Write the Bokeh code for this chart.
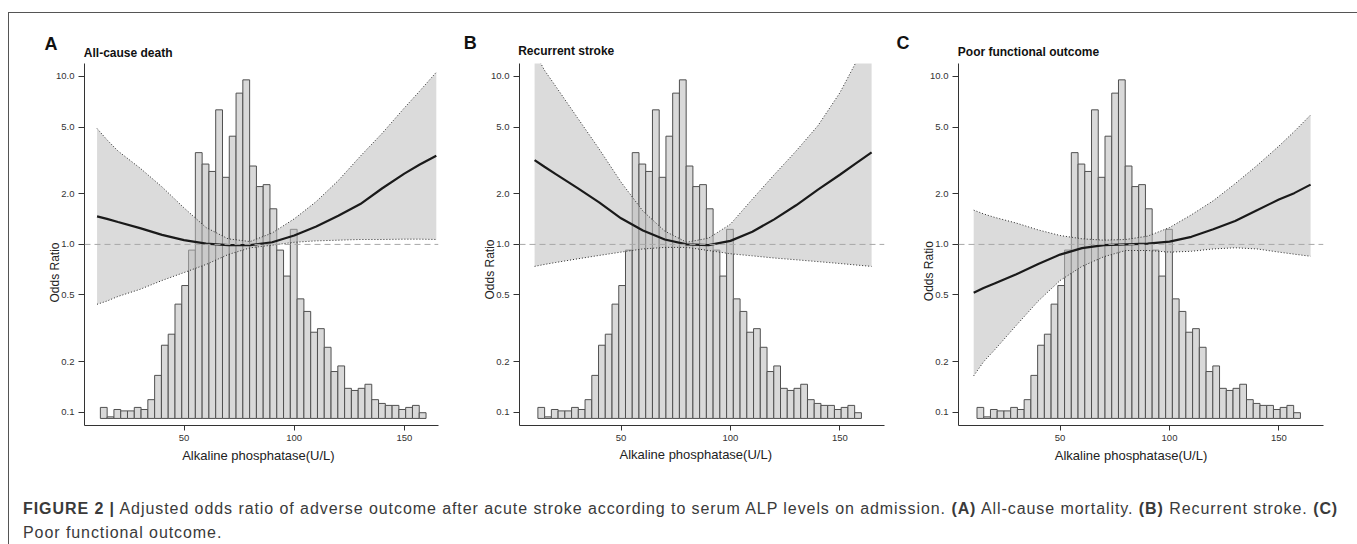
import math
from bokeh.plotting import figure
from bokeh.models import Span, FixedTicker, Div, CustomJSTickFormatter, Title, Range1d
from bokeh.core.properties import value
from bokeh.layouts import column, row
from bokeh.embed import file_html
from bokeh.resources import INLINE

FONT = "Liberation Sans"

# ---------------- data ----------------
# ALP histogram (same in all panels), bar tops read on the odds-ratio log axis
hist_start = 12.0
hist_bin_width = 3.08
hist_bottom = 0.092
hist_tops = [0.107, 0.094, 0.104, 0.102, 0.102, 0.107, 0.104, 0.119, 0.166, 0.251,
             0.292, 0.441, 0.569, 0.925, 3.52, 3.01, 2.72, 6.33, 2.51, 4.41,
             7.96, 9.55, 2.93, 2.21, 2.27, 1.63, 0.925, 0.648, 1.23, 0.474,
             0.399, 0.300, 0.315, 0.244, 0.175, 0.189, 0.139, 0.135, 0.139, 0.147,
             0.119, 0.113, 0.110, 0.110, 0.104, 0.107, 0.110, 0.0995]

alp = [10.5, 15, 20, 30, 40, 50, 60, 70, 80, 90, 100, 110, 120, 130, 140, 150, 157, 164.5]

# A: All-cause death
a_or = [1.47, 1.42, 1.36, 1.25, 1.14, 1.06, 1.01, 0.99, 0.99, 1.03, 1.13, 1.28, 1.48, 1.74, 2.16, 2.64, 2.99, 3.37]
a_hi = [4.9, 4.2, 3.6, 2.85, 2.2, 1.65, 1.26, 1.08, 1.04, 1.17, 1.42, 1.80, 2.4, 3.35, 4.6, 6.5, 8.2, 10.6]
a_lo = [0.44, 0.46, 0.49, 0.54, 0.61, 0.68, 0.76, 0.87, 0.955, 0.99, 1.03, 1.05, 1.06, 1.07, 1.07, 1.075, 1.075, 1.07]

# B: Recurrent stroke
b_or = [3.18, 2.9, 2.63, 2.17, 1.78, 1.43, 1.21, 1.07, 1.00, 0.99, 1.05, 1.19, 1.41, 1.71, 2.12, 2.6, 3.02, 3.53]
b_hi = [14.0, 10.9, 8.8, 5.7, 3.7, 2.35, 1.58, 1.20, 1.03, 1.09, 1.32, 1.86, 2.6, 3.6, 5.1, 8.0, 11.9, 17.0]
b_lo = [0.74, 0.76, 0.78, 0.82, 0.86, 0.90, 0.94, 0.96, 0.96, 0.92, 0.88, 0.855, 0.83, 0.81, 0.79, 0.77, 0.755, 0.74]

# C: Poor functional outcome
c_or = [0.515, 0.55, 0.585, 0.665, 0.765, 0.87, 0.95, 0.99, 1.0, 1.01, 1.04, 1.11, 1.23, 1.38, 1.6, 1.85, 2.02, 2.27]
c_hi = [1.6, 1.52, 1.45, 1.34, 1.22, 1.13, 1.08, 1.06, 1.07, 1.12, 1.26, 1.5, 1.82, 2.3, 2.95, 3.85, 4.7, 5.9]
c_lo = [0.165, 0.2, 0.235, 0.33, 0.46, 0.61, 0.74, 0.845, 0.92, 0.92, 0.90, 0.91, 0.94, 0.955, 0.94, 0.90, 0.875, 0.85]

panel_letters = ["A", "B", "C"]
panel_titles = ["All-cause death", "Recurrent stroke", "Poor functional outcome"]
y_ticks = [0.1, 0.2, 0.5, 1.0, 2.0, 5.0, 10.0]
x_ticks = [50, 100, 150]
y_label = "Odds Ratio"
x_label = "Alkaline phosphatase(U/L)"
y_lim = (0.0835, 11.95)

hist_left = [hist_start + i * hist_bin_width for i in range(len(hist_tops))]
hist_right = [l + hist_bin_width for l in hist_left]


def panel(orv, lo, hi, xr, width, height, ml, mr, mt, mb, ylab_off, xlab_off, xlab_standoff):
    p = figure(width=width, height=height, x_range=xr, y_range=y_lim,
               y_axis_type="log", output_backend="svg", toolbar_location=None,
               min_border_left=ml, min_border_right=mr, min_border_top=mt,
               min_border_bottom=mb)
    p.grid.visible = False
    p.outline_line_color = None

    p.xaxis.ticker = FixedTicker(ticks=x_ticks)
    p.yaxis.ticker = FixedTicker(ticks=y_ticks)
    p.yaxis.formatter = CustomJSTickFormatter(code="return tick.toFixed(1);")
    for ax in (p.xaxis, p.yaxis):
        ax.axis_line_color = "#333333"
        ax.axis_line_width = 1
        ax.major_tick_line_color = "#333333"
        ax.minor_tick_line_color = None
        ax.major_tick_in = 0
        ax.major_label_text_font = FONT
        ax.major_label_text_font_size = "9.5px"
        ax.major_label_text_color = "#333333"
        ax.major_label_standoff = 4
    p.yaxis.major_tick_out = 6
    p.xaxis.major_tick_out = 5

    # histogram
    p.quad(left=hist_left, right=hist_right, bottom=hist_bottom, top=hist_tops,
           fill_color="#d9d9d9", line_color="#505050", line_width=1)
    # confidence band
    p.varea(x=alp, y1=lo, y2=hi, fill_color="#bdbdbd", fill_alpha=0.55)
    p.line(alp, hi, line_color="#2a2a2a", line_dash="1 2", line_width=1)
    p.line(alp, lo, line_color="#2a2a2a", line_dash="1 2", line_width=1)
    p.add_layout(Span(location=1.0, dimension="width", line_color="#a8a8a8",
                      line_dash="6 4", line_width=1))
    p.line(alp, orv, line_color="#1a1a1a", line_width=2.2)

    p.add_layout(Title(text=y_label, align="left", offset=ylab_off, vertical_align="bottom",
                       standoff=-17, text_font=FONT, text_font_size="12px",
                       text_font_style="normal", text_color="#222222"), "left")
    p.add_layout(Title(text=x_label, align="left", offset=xlab_off, vertical_align="top",
                       standoff=xlab_standoff, text_font=FONT, text_font_size="13px",
                       text_font_style="normal", text_color="#222222"), "below")
    return p


# strip with panel letters and headings (pixel coordinates of the strip)
strip = figure(width=1346, height=48, x_range=Range1d(0, 1346), y_range=Range1d(48, 0),
               output_backend="svg", toolbar_location=None, min_border=0)
strip.axis.visible = False
strip.grid.visible = False
strip.outline_line_color = None
strip.text(x=[35, 454.3, 887], y=[30, 29.3, 29.7], text=panel_letters,
           text_font=value(FONT), text_font_size=value("18px"), text_font_style="bold",
           text_baseline="middle", text_align="left", text_color="#111111")
strip.text(x=[74.3, 508.7, 948.3], y=[39, 37.7, 38.7], text=panel_titles,
           text_font=value(FONT), text_font_size=value("12px"), text_font_style="bold",
           text_baseline="middle", text_align="left", text_color="#111111")

pA = panel(a_or, a_lo, a_hi, (4.8, 165.5), 446, 410, 75, 17, 1, 46, 123, 97.7, 9)
pB = panel(b_or, b_lo, b_hi, (3.6, 170.4), 438, 410, 64, 9, 2, 43, 126, 100, 6)
pC = panel(c_or, c_lo, c_hi, (3.55, 170.4), 462, 410, 65, 32, 0, 46, 124.3, 96.3, 9)

caption = Div(
    text=("<b>FIGURE 2 |</b> Adjusted odds ratio of adverse outcome after acute stroke "
          "according to serum ALP levels on admission. <b>(A)</b> All-cause mortality. "
          "<b>(B)</b> Recurrent stroke. <b>(C)</b><br>Poor functional outcome."),
    width=1346, height=73,
    styles={"font-family": FONT, "font-size": "16px", "color": "#3a3a3a",
            "line-height": "24px", "padding-left": "9px", "padding-top": "21px",
            "letter-spacing": "0.93px", "white-space": "nowrap"})

layout = column(strip, row(pA, pB, pC), caption, margin=(12, 0, 0, 8),
                styles={"border-left": "1px solid #555", "border-top": "1px solid #555",
                        "border-right": "1px solid #555"})

open("out.html", "w").write(file_html(layout, INLINE))
